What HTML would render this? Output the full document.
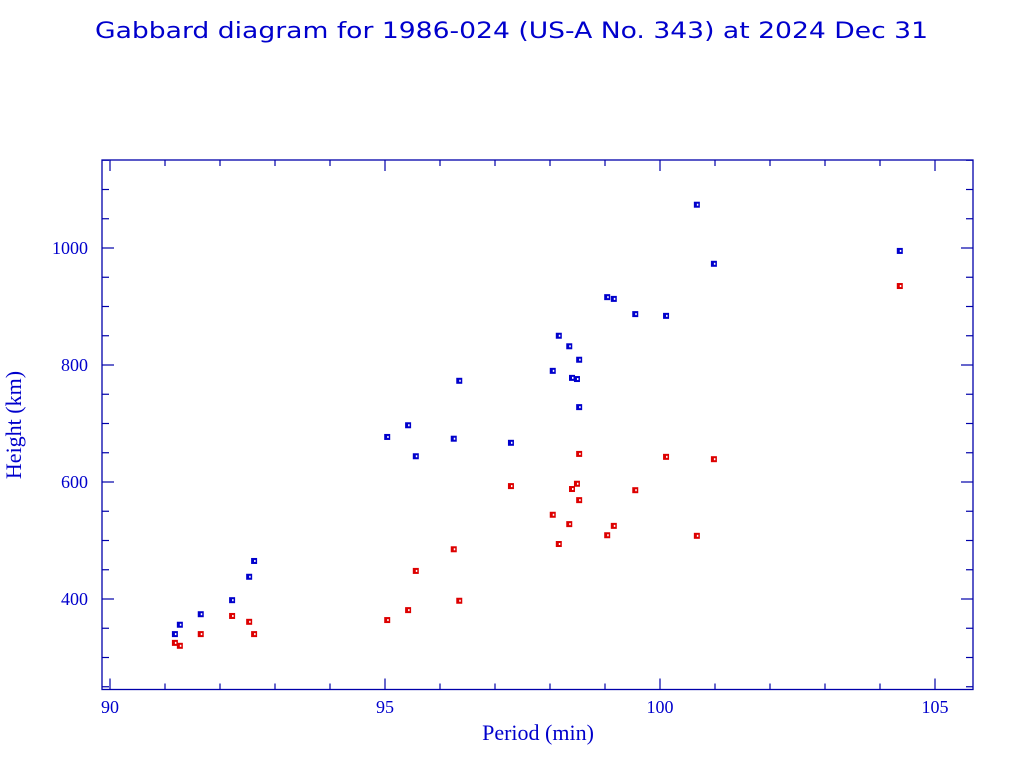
<!DOCTYPE html>
<html><head><meta charset="utf-8"><style>body{margin:0;background:#fff}svg{display:block}</style></head>
<body>
<svg width="1024" height="768" font-family="'DejaVu Sans','Liberation Sans',sans-serif">
<text x="95" y="38" font-size="22" fill="#0000cc" textLength="833" lengthAdjust="spacingAndGlyphs">Gabbard diagram for 1986-024 (US-A No. 343) at 2024 Dec 31</text>
<rect x="102" y="160" width="871" height="529.5" fill="none" stroke="#0000aa" stroke-width="1.3"/>
<g id="ticks"></g>
<g id="pts"></g>
<text x="538" y="740" font-size="22" fill="#0000cc" text-anchor="middle" font-family="'Liberation Serif',serif">Period (min)</text>
<text transform="translate(21,425) rotate(-90)" font-size="22" fill="#0000cc" text-anchor="middle" font-family="'Liberation Serif',serif">Height (km)</text>
</svg>
<script>
const periods = [91.18,91.27,91.65,92.22,92.53,92.62,95.04,95.42,95.56,96.25,96.35,97.29,98.05,98.16,98.35,98.40,98.49,98.53,98.53,99.04,99.16,99.55,100.11,100.67,100.98,104.36];
const apogees = [340,356,374,398,438,465,677,697,644,674,773,667,790,850,832,778,776,809,728,916,913,887,884,1074,973,995];
const perigees = [325,320,340,371,361,340,364,381,448,485,397,593,544,494,528,588,597,648,569,509,525,586,643,508,639,935];
const xTicks = [90,95,100,105];
const yTicks = [400,600,800,1000];
const NS='http://www.w3.org/2000/svg';
const X = p => 110 + (p-90)*55;
const Y = h => 248 - (h-1000)*0.585;
const tg=document.getElementById('ticks'), pg=document.getElementById('pts');
function ln(x1,y1,x2,y2){const l=document.createElementNS(NS,'line');
l.setAttribute('x1',x1);l.setAttribute('y1',y1);l.setAttribute('x2',x2);l.setAttribute('y2',y2);
l.setAttribute('stroke','#0000aa');l.setAttribute('stroke-width','1.2');


tg.appendChild(l);}
function tx(x,y,s,anchor){const t=document.createElementNS(NS,'text');
t.setAttribute('x',x);t.setAttribute('y',y);t.setAttribute('font-size','18');t.setAttribute('fill','#0000cc');
t.setAttribute('text-anchor',anchor);t.setAttribute('font-family',"'Liberation Serif',serif");t.textContent=s;


tg.appendChild(t);}
for(let p=90;p<=105;p++){const x=X(p),L=(p%5===0)?11:6;ln(x,689.5,x,689.5-L);ln(x,160,x,160+L);}
for(let h=250;h<=1150;h+=50){const y=Y(h),L=(h%200===0)?12:7;ln(102,y,102+L,y);ln(973,y,973-L,y);}
xTicks.forEach(v=>tx(X(v),713,String(v),'middle'));
yTicks.forEach(v=>tx(88,Y(v)+6,String(v),'end'));
function mk(x,y,c){const r=document.createElementNS(NS,'rect');
r.setAttribute('x',x-3);r.setAttribute('y',y-3);r.setAttribute('width',6);r.setAttribute('height',6);
r.setAttribute('fill',c);


pg.appendChild(r);
const d=document.createElementNS(NS,'rect');
d.setAttribute('x',x);d.setAttribute('y',y-1);d.setAttribute('width',1.5);d.setAttribute('height',2);d.setAttribute('fill','#fff');


pg.appendChild(d);}
periods.forEach((p,i)=>{mk(X(p),Y(perigees[i]),'#dd0000');mk(X(p),Y(apogees[i]),'#0000cc');});
</script>
</body></html>
